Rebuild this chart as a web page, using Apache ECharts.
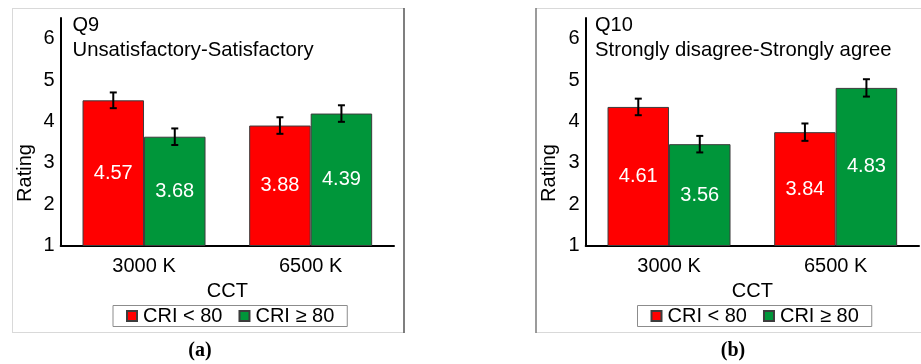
<!DOCTYPE html>
<html>
<head>
<meta charset="utf-8">
<script src="https://cdn.jsdelivr.net/npm/echarts@6/dist/echarts.min.js"></script>
<style>html,body{margin:0;padding:0;background:#fff}#c{width:921px;height:364px}</style>
</head>
<body>
<div id="c"></div>
<script>
// ---- data ----
const categories = ['3000 K', '6500 K'];
const seriesNames = ['CRI < 80', 'CRI \u2265 80'];
const yTicks = [1, 2, 3, 4, 5, 6];
// Panel (a) Q9
const q9Title = ['Q9', 'Unsatisfactory-Satisfactory'];
const q9Low = [4.51, 3.90];
const q9High = [3.63, 4.19];
const q9LowErr = [0.19, 0.20];
const q9HighErr = [0.20, 0.20];
const q9LowLabels = ['4.57', '3.88'];
const q9HighLabels = ['3.68', '4.39'];
// Panel (b) Q10
const q10Title = ['Q10', 'Strongly disagree-Strongly agree'];
const q10Low = [4.35, 3.74];
const q10High = [3.45, 4.81];
const q10LowErr = [0.20, 0.21];
const q10HighErr = [0.20, 0.21];
const q10LowLabels = ['4.61', '3.84'];
const q10HighLabels = ['3.56', '4.83'];
const panelTags = ['(a)', '(b)'];

// ---- styling ----
const FONT = 'Liberation Sans';
const RED = '#ff0000';
const GREEN = '#00963a';
const BAR_FRAC = 0.369; // bar width as fraction of category band
const gridTop = 18, gridH = 227.5, gridW = 333.3;
const gridLefts = [60.7, 585.7];

const chart = echarts.init(document.getElementById('c'));

function errSeries(gi, vals, errs, sign) {
  return {
    type: 'custom', xAxisIndex: gi, yAxisIndex: gi, silent: true, z: 10,
    data: vals.map((v, i) => [i, v, errs[i]]),
    renderItem: function (params, api) {
      const band = api.size([1, 0])[0];
      const x = api.coord([api.value(0), api.value(1)])[0] + sign * band * BAR_FRAC / 2;
      const yTop = api.coord([api.value(0), api.value(1) + api.value(2)])[1];
      const yBot = api.coord([api.value(0), api.value(1) - api.value(2)])[1];
      const cap = 3.5;
      const st = { stroke: '#000', lineWidth: 2 };
      return { type: 'group', children: [
        { type: 'line', shape: { x1: x, y1: yTop, x2: x, y2: yBot }, style: st },
        { type: 'line', shape: { x1: x - cap, y1: yTop, x2: x + cap, y2: yTop }, style: st },
        { type: 'line', shape: { x1: x - cap, y1: yBot, x2: x + cap, y2: yBot }, style: st }
      ]};
    }
  };
}

function barSeries(gi, name, vals, labels, color) {
  return {
    type: 'bar', name: name, xAxisIndex: gi, yAxisIndex: gi,
    data: vals, barGap: '0%', barCategoryGap: '26.2%',
    itemStyle: { color: color, borderColor: '#3c3c3c', borderWidth: 1 },
    label: { show: true, position: 'inside', color: '#fff', fontFamily: FONT, fontSize: 20,
      formatter: p => labels[p.dataIndex] },
    emphasis: { disabled: true }
  };
}

const grids = gridLefts.map(l => ({ left: l, top: gridTop, width: gridW, height: gridH }));
const xAxes = [0, 1].map(i => ({
  type: 'category', gridIndex: i, data: categories,
  axisLine: { lineStyle: { color: '#000', width: 2 } },
  axisTick: { show: false },
  axisLabel: { color: '#000', fontFamily: FONT, fontSize: 20, margin: 11 },
  name: 'CCT', nameLocation: 'middle', nameGap: 35,
  nameTextStyle: { color: '#000', fontFamily: FONT, fontSize: 20 }
}));
const yAxes = [0, 1].map(i => ({
  type: 'value', gridIndex: i, min: yTicks[0], max: 6.5, interval: 1,
  axisLine: { show: true, lineStyle: { color: '#000', width: 2 } },
  axisTick: { show: false }, splitLine: { show: false },
  axisLabel: { color: '#000', fontFamily: FONT, fontSize: 20, margin: 6, showMaxLabel: false,
    formatter: v => (yTicks.indexOf(v) >= 0 ? String(v) : '') }
}));

function legendFor(left) {
  return {
    left: left, top: 305.5, data: seriesNames, orient: 'horizontal',
    icon: 'rect', itemWidth: 10, itemHeight: 10, itemGap: 16,
    padding: [0, 13, 0, 13], borderColor: '#8c8c8c', borderWidth: 1,
    textStyle: { color: '#000', fontFamily: FONT, fontSize: 20, lineHeight: 21, padding: [0, 0, 0, 1] },
    selectedMode: false
  };
}

function txt(x, y, s, extra) {
  return Object.assign({ type: 'text', x: x, y: y,
    style: { text: s, fill: '#000', font: '20px "Liberation Sans"', textVerticalAlign: 'middle' } }, extra || {});
}

const graphics = [
  // panel frames
  { type: 'line', shape: { x1: 12, y1: 8.5, x2: 404, y2: 8.5 }, style: { stroke: '#d9d9d9', lineWidth: 1 } },
  { type: 'line', shape: { x1: 12, y1: 332.5, x2: 404, y2: 332.5 }, style: { stroke: '#d9d9d9', lineWidth: 1 } },
  { type: 'line', shape: { x1: 12.5, y1: 8, x2: 12.5, y2: 333 }, style: { stroke: '#d9d9d9', lineWidth: 1 } },
  { type: 'line', shape: { x1: 404, y1: 8, x2: 404, y2: 333 }, style: { stroke: '#555', lineWidth: 1.5 } },
  { type: 'line', shape: { x1: 536, y1: 8.5, x2: 921, y2: 8.5 }, style: { stroke: '#d9d9d9', lineWidth: 1 } },
  { type: 'line', shape: { x1: 536, y1: 332.5, x2: 921, y2: 332.5 }, style: { stroke: '#d9d9d9', lineWidth: 1 } },
  { type: 'line', shape: { x1: 536, y1: 8, x2: 536, y2: 333 }, style: { stroke: '#7a7a7a', lineWidth: 1.5 } },
  // titles
  txt(72.5, 25, q9Title[0]), txt(72.5, 50.5, q9Title[1], { style: { text: q9Title[1], fill: '#000', font: '20.3px "Liberation Sans"', textVerticalAlign: 'middle' } }),
  txt(595, 25, q10Title[0]), txt(595, 50.5, q10Title[1], { style: { text: q10Title[1], fill: '#000', font: '20.3px "Liberation Sans"', textVerticalAlign: 'middle' } }),
  // y-axis names
  { type: 'text', x: 25, y: 173, rotation: Math.PI / 2,
    style: { text: 'Rating', fill: '#000', font: '20px "Liberation Sans"', textAlign: 'center', textVerticalAlign: 'middle' } },
  { type: 'text', x: 549, y: 173, rotation: Math.PI / 2,
    style: { text: 'Rating', fill: '#000', font: '20px "Liberation Sans"', textAlign: 'center', textVerticalAlign: 'middle' } },
  // panel tags
  { type: 'text', x: 200, y: 351,
    style: { text: panelTags[0], fill: '#000', font: 'bold 20px "Liberation Serif"', textAlign: 'center', textVerticalAlign: 'middle' } },
  { type: 'text', x: 733, y: 351,
    style: { text: panelTags[1], fill: '#000', font: 'bold 20px "Liberation Serif"', textAlign: 'center', textVerticalAlign: 'middle' } }
];

chart.setOption({
  animation: false,
  grid: grids, xAxis: xAxes, yAxis: yAxes,
  legend: [legendFor(113), legendFor(637.5)],
  series: [
    barSeries(0, seriesNames[0], q9Low, q9LowLabels, RED),
    barSeries(0, seriesNames[1], q9High, q9HighLabels, GREEN),
    barSeries(1, seriesNames[0], q10Low, q10LowLabels, RED),
    barSeries(1, seriesNames[1], q10High, q10HighLabels, GREEN),
    errSeries(0, q9Low, q9LowErr, -1), errSeries(0, q9High, q9HighErr, 1),
    errSeries(1, q10Low, q10LowErr, -1), errSeries(1, q10High, q10HighErr, 1)
  ],
  graphic: graphics
});
</script>
</body>
</html>
